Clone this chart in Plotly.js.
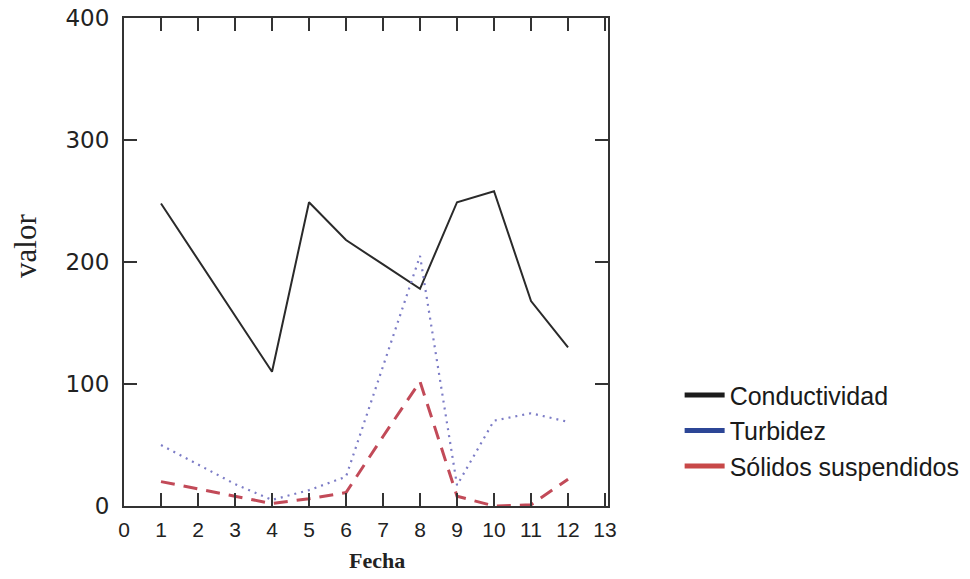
<!DOCTYPE html>
<html>
<head>
<meta charset="utf-8">
<script src="https://cdn.plot.ly/plotly-3.0.1.min.js"></script>
<style>html,body{margin:0;padding:0;background:#fff;}#chart{width:970px;height:579px;}</style>
</head>
<body>
<div id="chart"></div>
<script>
const fechas = [1, 2, 3, 4, 5, 6, 7, 8, 9, 10, 11, 12];
const conductividad = [248, 202, 156, 110, 249, 218, 198, 178, 249, 258, 168, 130];
const turbidez = [50, 34, 18, 5, 13, 24, 115, 205, 17, 70, 76, 69];
const solidos = [20, 14, 8, 2, 6, 11, 57, 102, 8, 0, 1, 22];
const seriesNames = ['Conductividad', 'Turbidez', 'Sólidos suspendidos'];
const xTicks = [0, 1, 2, 3, 4, 5, 6, 7, 8, 9, 10, 11, 12, 13];
const yTicks = [0, 100, 200, 300, 400];
const xTitle = 'Fecha';
const yTitle = 'valor';

const traces = [
  {x: fechas, y: conductividad, mode: 'lines', showlegend: false,
   line: {color: '#2a2a2a', width: 2}},
  {x: fechas, y: turbidez, mode: 'lines', showlegend: false,
   line: {color: '#7c7cc6', width: 2.2, dash: '2px,5px'}},
  {x: fechas, y: solidos, mode: 'lines', showlegend: false,
   line: {color: '#c24a58', width: 3, dash: '14px,9px'}},
  {x: [null], y: [null], mode: 'lines', name: seriesNames[0], legendgroup: 'a',
   line: {color: '#1c1c1c', width: 5}},
  {x: [null], y: [null], mode: 'lines', name: seriesNames[1], legendgroup: 'b',
   line: {color: '#2c4696', width: 5}},
  {x: [null], y: [null], mode: 'lines', name: seriesNames[2], legendgroup: 'c',
   line: {color: '#c84848', width: 5}}
];

const axisCommon = {
  showgrid: false, zeroline: false, showline: true, linecolor: '#333', linewidth: 2,
  mirror: 'ticks', ticks: 'inside', ticklen: 13, tickwidth: 2, tickcolor: '#333'
};

const layout = {
  width: 970, height: 579,
  margin: {l: 124, r: 362, t: 18, b: 73, autoexpand: false},
  paper_bgcolor: '#fff', plot_bgcolor: '#fff',
  showlegend: true,
  legend: {
    x: 1.148, xanchor: 'left', y: 0.154, yanchor: 'middle',
    traceorder: 'grouped', tracegroupgap: 0, itemwidth: 40,
    font: {family: 'Liberation Sans, Arial, sans-serif', size: 25, color: '#1a1a1a'},
    bgcolor: 'rgba(0,0,0,0)'
  },
  xaxis: Object.assign({}, axisCommon, {
    range: [0, 13.08], tickvals: xTicks, ticktext: xTicks.map(String),
    tickfont: {family: 'Liberation Sans, Arial, sans-serif', size: 21, color: '#222'},
    ticklabelstandoff: 4, automargin: false
  }),
  yaxis: Object.assign({}, axisCommon, {
    range: [0, 400], tickvals: yTicks, ticktext: yTicks.map(String),
    tickfont: {family: 'DejaVu Sans, sans-serif', size: 23, color: '#222'},
    ticklabelstandoff: 8, automargin: false
  }),
  annotations: [
    {text: xTitle, xref: 'x', yref: 'paper', x: 6.85, y: -0.1127,
     xanchor: 'center', yanchor: 'middle', showarrow: false,
     font: {family: 'Liberation Serif, Times New Roman, serif', size: 22, color: '#222', weight: 'bold'}},
    {text: yTitle, xref: 'paper', yref: 'paper', x: -0.2025, y: 0.533, textangle: -90,
     xanchor: 'center', yanchor: 'middle', showarrow: false,
     font: {family: 'Liberation Serif, Times New Roman, serif', size: 31, color: '#222'}}
  ]
};

Plotly.newPlot('chart', traces, layout, {displayModeBar: false, staticPlot: true});
</script>
</body>
</html>
